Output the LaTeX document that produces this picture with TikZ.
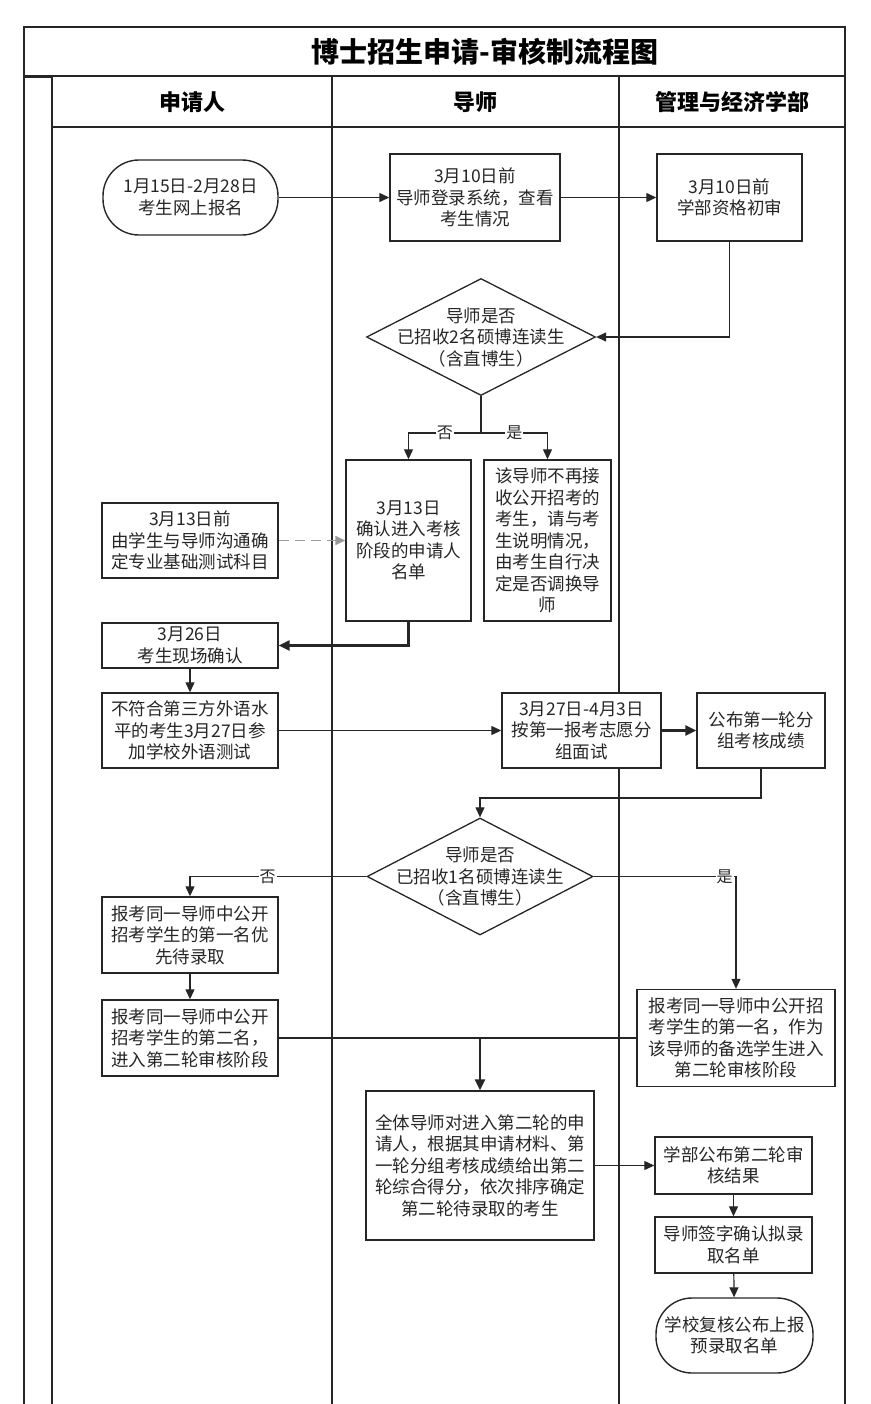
\documentclass[tikz,border=0pt]{standalone}
\usepackage{fontspec}
\setmainfont{Noto Sans CJK SC}
\usetikzlibrary{arrows.meta,shapes.geometric}

\tikzset{
  body/.style={font=\fontsize{17.5}{21.5}\selectfont,text=black!85},
  lane/.style={draw=black!85,line width=1.1pt},
  box/.style={body,draw=black!85,line width=1.4pt,fill=white,align=center,inner sep=2pt},
  term/.style={box,rounded corners=36pt},
  decide/.style={draw=black!85,line width=1.3pt,diamond,inner sep=0pt},
  flow/.style={draw=black!85,line width=1.2pt,-{Triangle[length=10pt,width=9pt]}},
  heavyline/.style={draw=black!85,line width=2.6pt},
  flowheavy/.style={heavyline,-{Triangle[length=11pt,width=10pt]}},
  flowdash/.style={draw=black!40,line width=1.5pt,dash pattern=on 10pt off 6pt,-{Triangle[length=10pt,width=9pt]}},
  yesno/.style={fill=white,inner sep=1pt,font=\fontsize{16}{16}\selectfont,text=black!85}
}

\begin{document}
\begin{tikzpicture}[x=1pt,y=-1pt]
  \useasboundingbox (0,0) rectangle (870,1404);

  % swimlane frame
  \draw[lane] (24,1404) -- (24,27) -- (845,27) -- (845,1404);
  \draw[lane] (24,76) -- (845,76);
  \draw[lane] (52,127) -- (845,127);
  \draw[lane] (52,76) -- (52,1404);
  \draw[lane] (332,76) -- (332,1404);
  \draw[lane] (619,76) -- (619,1404);
  \draw[draw=black!85,line width=2.2pt] (24,77) -- (52,77);

  \node[font=\fontsize{28}{28}\selectfont\bfseries] (title) at (485,52) {博士招生申请-审核制流程图};
  \begin{scope}[every node/.style={font=\fontsize{22}{22}\selectfont\bfseries}]
    \node (hApply) at (192,102) {申请人};
    \node (hTutor) at (475,102) {导师};
    \node (hSchool) at (732,102) {管理与经济学部};
  \end{scope}

  \begin{scope}[every node/.style={box}]
    \node[term,minimum width=175pt,minimum height=75pt] (apply) at (190.5,197.5) {1月15日-2月28日\\考生网上报名};
    \node[minimum width=170pt,minimum height=87pt] (login) at (475,197.5) {3月10日前\\导师登录系统，查看\\考生情况};
    \node[minimum width=145pt,minimum height=87pt] (check) at (729.5,197.5) {3月10日前\\学部资格初审};

    \node[minimum width=125pt,minimum height=161pt] (namelist) at (408.5,540.5) {3月13日\\确认进入考核\\阶段的申请人\\名单};
    \node[minimum width=127pt,minimum height=161pt] (noaccept) at (547.5,540.5) {该导师不再接\\收公开招考的\\考生，请与考\\生说明情况，\\由考生自行决\\定是否调换导\\师};
    \node[minimum width=176pt,minimum height=75pt] (subject) at (190,540.5) {3月13日前\\由学生与导师沟通确\\定专业基础测试科目};
    \node[minimum width=176pt,minimum height=45pt] (confirm) at (190,645.5) {3月26日\\考生现场确认};
    \node[minimum width=176pt,minimum height=75pt] (langtest) at (190,730.5) {不符合第三方外语水\\平的考生3月27日参\\加学校外语测试};
    \node[minimum width=159pt,minimum height=75pt] (interview) at (581.5,730.5) {3月27日-4月3日\\按第一报考志愿分\\组面试};
    \node[minimum width=128pt,minimum height=75pt] (score1) at (761,730.5) {公布第一轮分\\组考核成绩};

    \node[minimum width=176pt,minimum height=76pt] (first) at (190,935) {报考同一导师中公开\\招考学生的第一名优\\先待录取};
    \node[minimum width=176pt,minimum height=76pt] (second) at (190,1038) {报考同一导师中公开\\招考学生的第二名，\\进入第二轮审核阶段};
    \node[minimum width=198pt,minimum height=97pt] (backup) at (736,1038) {报考同一导师中公开招\\考学生的第一名，作为\\该导师的备选学生进入\\第二轮审核阶段};
    \node[minimum width=228pt,minimum height=149pt] (round2) at (480,1165.5) {全体导师对进入第二轮的申\\请人，根据其申请材料、第\\一轮分组考核成绩给出第二\\轮综合得分，依次排序确定\\第二轮待录取的考生};
    \node[minimum width=157pt,minimum height=57pt] (result2) at (733.5,1165.5) {学部公布第二轮审\\核结果};
    \node[minimum width=157pt,minimum height=56pt] (sign) at (733.5,1245) {导师签字确认拟录\\取名单};
    \node[term,minimum width=157pt,minimum height=75pt] (final) at (734.5,1335.5) {学校复核公布上报\\预录取名单};
  \end{scope}

  \node[decide,minimum width=229pt,minimum height=117pt,
        label={[body,align=center]center:导师是否\\已招收2名硕博连读生\\（含直博生）}] (quota1) at (481,337) {};
  \node[decide,minimum width=226pt,minimum height=117pt,
        label={[body,align=center]center:导师是否\\已招收1名硕博连读生\\（含直博生）}] (quota2) at (480,876.5) {};

  \coordinate (split1) at (481,433);
  \coordinate (join1) at (480,798);
  \coordinate (join2) at (second.east -| round2.north);

  \draw[flow] (apply) -- (login);
  \draw[flow] (login) -- (check);
  \draw[flow] (check.south) |- (quota1.east);
  \draw[heavyline] (quota1.south) -- (split1);
  \draw[flow] (split1) -| node[yesno,pos=.25] {否} (namelist.north);
  \draw[flow] (split1) -| node[yesno,pos=.25] {是} (noaccept.north);
  \draw[flowdash] (subject) -- (namelist);
  \draw[flowheavy] (namelist.south) |- (confirm.east);
  \draw[flow] (confirm) -- (langtest);
  \draw[flow] (langtest) -- (interview);
  \draw[flowheavy] (interview) -- (score1);
  \draw[flow] (score1.south) |- (join1) -- (quota2.north);
  \draw[flow] (quota2.west) -| node[yesno,pos=.28] {否} (first.north);
  \draw[flow] (quota2.east) -| node[yesno,pos=.46] {是} (backup.north);
  \draw[flow] (first) -- (second);
  \draw[heavyline] (second) -- (backup);
  \draw[flowheavy] (join2) -- (round2);
  \draw[flow] (round2) -- (result2);
  \draw[flow] (result2) -- (sign);
  \draw[flow] (sign) -- (final);

\end{tikzpicture}
\end{document}
